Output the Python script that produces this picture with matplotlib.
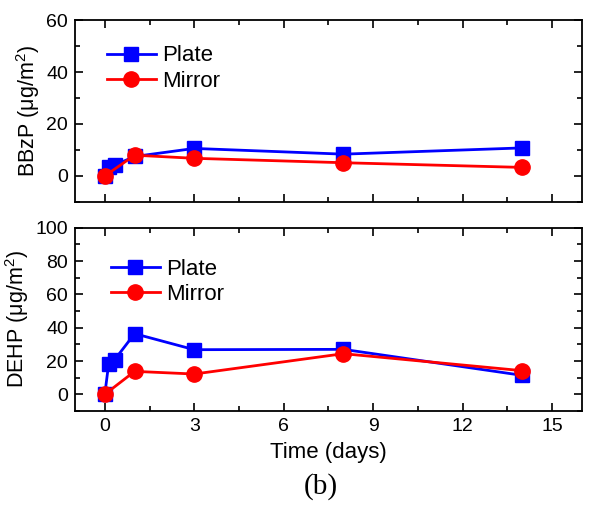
import matplotlib
matplotlib.use("Agg")
import matplotlib.pyplot as plt
from matplotlib.ticker import MultipleLocator

# data
plate_days = [0, 0.13, 0.33, 1, 3, 8, 14]
mirror_days = [0, 1, 3, 8, 14]
bbzp_plate = [0, 3.6, 4.2, 7.5, 10.6, 8.4, 10.8]
bbzp_mirror = [0, 8.0, 6.8, 5.1, 3.3]
dehp_plate = [0, 18.4, 20.8, 36.4, 26.8, 27.0, 11.4]
dehp_mirror = [0, 13.8, 12.2, 24.4, 14.2]

plt.rcParams['font.family'] = ['Liberation Sans', 'DejaVu Sans']
plt.rcParams['mathtext.fontset'] = 'custom'
plt.rcParams['mathtext.rm'] = 'Liberation Sans'
plt.rcParams['mathtext.it'] = 'Liberation Sans:italic'

fig = plt.figure(figsize=(5.89, 5.08), dpi=100)
ax1 = fig.add_axes([0.1273, 0.6024, 0.8607, 0.3582])
ax2 = fig.add_axes([0.1273, 0.1909, 0.8607, 0.3609])


def style_axis(ax, ymin, ymax, ymajor, yminor):
    ax.set_xlim(-1, 16)
    ax.set_ylim(ymin, ymax)
    ax.xaxis.set_major_locator(MultipleLocator(3))
    ax.xaxis.set_minor_locator(MultipleLocator(1.5))
    ax.yaxis.set_major_locator(MultipleLocator(ymajor))
    ax.yaxis.set_minor_locator(MultipleLocator(yminor))
    ax.tick_params(which='both', direction='in', top=True, right=True,
                   labelsize=14, width=1.2, pad=5)
    ax.tick_params(which='major', length=6)
    ax.tick_params(which='minor', length=3.5)
    for s in ax.spines.values():
        s.set_linewidth(1.3)


def draw(ax, yp, ym, anchor):
    ax.plot(plate_days, yp, color='#0000ff', marker='s', markersize=10,
            linewidth=2, label='Plate')
    ax.plot(mirror_days, ym, color='#ff0000', marker='o', markersize=11,
            linewidth=2, label='Mirror')
    ax.legend(loc='upper left', bbox_to_anchor=anchor, frameon=False,
              fontsize=16, handlelength=2.2, handletextpad=0.3,
              labelspacing=0.2, borderaxespad=0)


draw(ax1, bbzp_plate, bbzp_mirror, (0.045, 0.91))
style_axis(ax1, -10, 60, 20, 10)
ax1.tick_params(labelbottom=False)
ax1.set_ylabel('BBzP ($\\mathregular{\\mu}$g/m$^2$)', fontsize=15.5, labelpad=3)

draw(ax2, dehp_plate, dehp_mirror, (0.053, 0.88))
style_axis(ax2, -10, 100, 20, 10)
ax2.set_ylabel('DEHP ($\\mathregular{\\mu}$g/m$^2$)', fontsize=15.5, labelpad=3)
ax2.set_xlabel('Time (days)', fontsize=16, labelpad=5)

fig.align_ylabels([ax1, ax2])
fig.text(0.545, 0.042, '(b)', fontsize=21, family='Liberation Serif',
         ha='center', va='center')

fig.savefig('out.png', dpi=100)
